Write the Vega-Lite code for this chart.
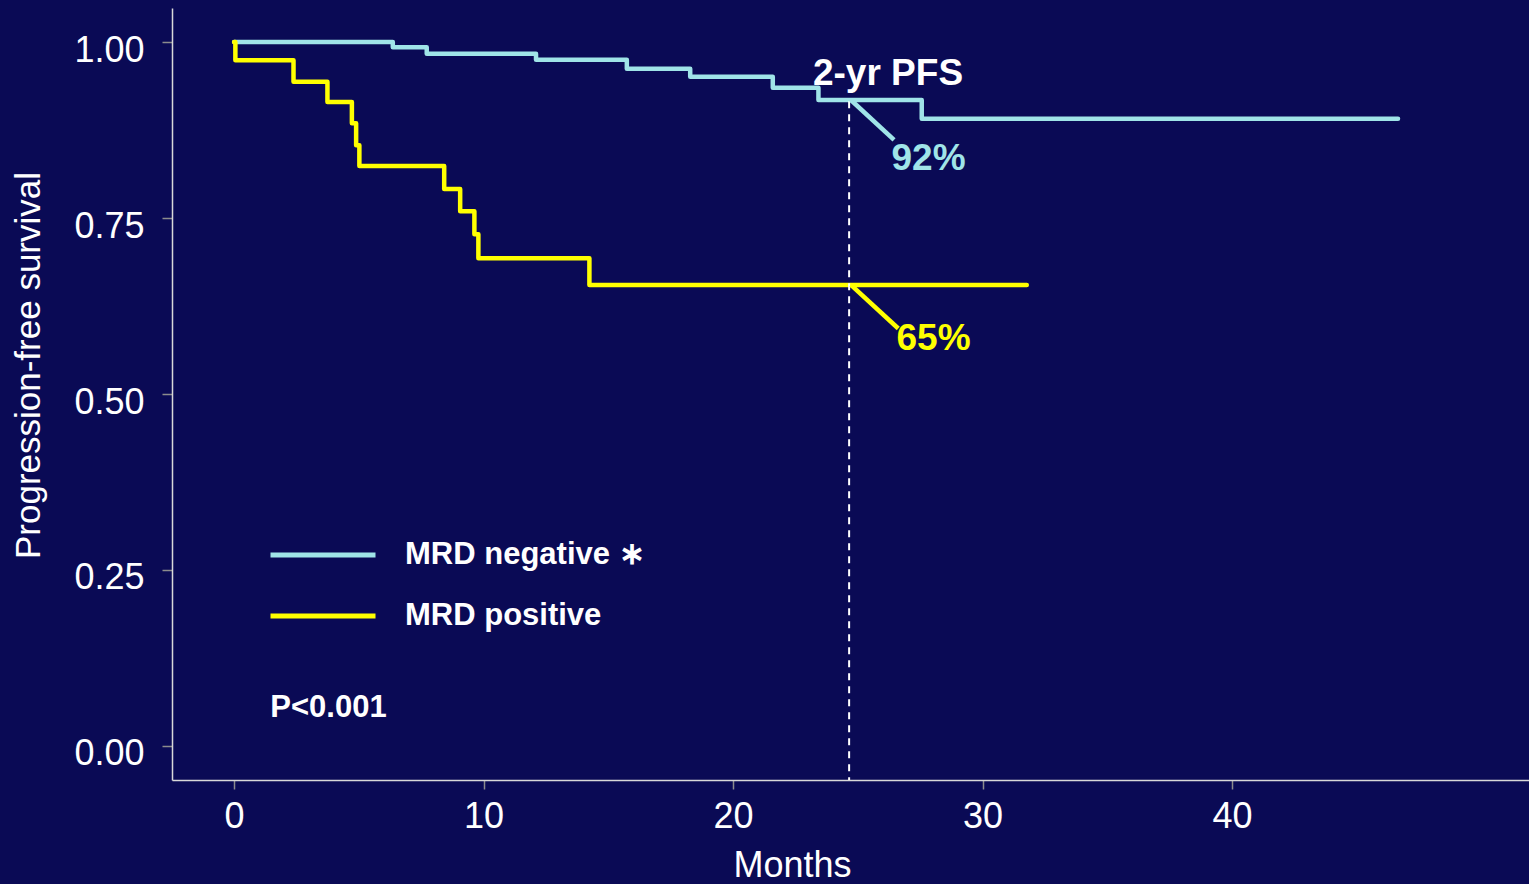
{
  "$schema": "https://vega.github.io/schema/vega-lite/v6.json",
  "width": 1357,
  "height": 772,
  "autosize": "none",
  "padding": {"left": 172, "top": 8, "right": 0, "bottom": 104},
  "background": "#0a0a55",
  "config": {
    "view": {"stroke": null},
    "font": "Liberation Sans",
    "text": {"font": "Liberation Sans"}
  },
  "layer": [
    {
      "data": {
        "values": [
          {"group": "MRD negative ∗", "month": 0, "pfs": 1.0},
          {"group": "MRD negative ∗", "month": 6.36, "pfs": 0.9925},
          {"group": "MRD negative ∗", "month": 7.72, "pfs": 0.9834},
          {"group": "MRD negative ∗", "month": 12.1, "pfs": 0.9749},
          {"group": "MRD negative ∗", "month": 15.74, "pfs": 0.9621},
          {"group": "MRD negative ∗", "month": 18.28, "pfs": 0.9507},
          {"group": "MRD negative ∗", "month": 21.59, "pfs": 0.9351},
          {"group": "MRD negative ∗", "month": 23.42, "pfs": 0.9176},
          {"group": "MRD negative ∗", "month": 27.56, "pfs": 0.8911},
          {"group": "MRD negative ∗", "month": 46.65, "pfs": 0.8911},
          {"group": "MRD positive", "month": 0, "pfs": 1.0},
          {"group": "MRD positive", "month": 0.05, "pfs": 0.974},
          {"group": "MRD positive", "month": 2.38, "pfs": 0.9436},
          {"group": "MRD positive", "month": 3.74, "pfs": 0.9148},
          {"group": "MRD positive", "month": 4.72, "pfs": 0.8845},
          {"group": "MRD positive", "month": 4.89, "pfs": 0.8532},
          {"group": "MRD positive", "month": 5.02, "pfs": 0.8239},
          {"group": "MRD positive", "month": 8.42, "pfs": 0.7912},
          {"group": "MRD positive", "month": 9.06, "pfs": 0.7595},
          {"group": "MRD positive", "month": 9.63, "pfs": 0.7268},
          {"group": "MRD positive", "month": 9.79, "pfs": 0.6927},
          {"group": "MRD positive", "month": 14.24, "pfs": 0.6548},
          {"group": "MRD positive", "month": 31.77, "pfs": 0.6548}
        ]
      },
      "mark": {"type": "line", "interpolate": "step-after", "strokeWidth": 4.5, "strokeCap": "round", "strokeJoin": "round"},
      "encoding": {
        "x": {
          "field": "month", "type": "quantitative",
          "scale": {"domain": [-2.49, 51.9], "nice": false, "zero": false},
          "axis": {
            "values": [0, 10, 20, 30, 40],
            "title": "Months",
            "titleFont": "Liberation Sans", "titleFontSize": 36, "titleFontWeight": "normal", "titleColor": "#ffffff",
            "titleX": 620, "titleY": 96, "titleAlign": "center", "titleBaseline": "alphabetic",
            "labelFont": "Liberation Sans", "labelFontSize": 36, "labelColor": "#ffffff", "labelPadding": 10,
            "tickSize": 9, "tickColor": "#8c8c8c", "tickWidth": 1.5,
            "domainColor": "#d9d9d9", "domainWidth": 1.5, "grid": false, "labelFlush": false
          }
        },
        "y": {
          "field": "pfs", "type": "quantitative",
          "scale": {"domain": [-0.0483, 1.0483], "nice": false, "zero": false},
          "axis": {
            "values": [0, 0.25, 0.5, 0.75, 1], "format": ".2f",
            "title": "Progression-free survival",
            "titleFont": "Liberation Sans", "titleFontSize": 35, "titleFontWeight": "normal", "titleColor": "#ffffff",
            "titleX": -133, "titleY": 357, "titleAlign": "center", "titleBaseline": "alphabetic", "titleAngle": -90,
            "labelFont": "Liberation Sans", "labelFontSize": 36, "labelColor": "#ffffff", "labelPadding": 18, "labelOffset": 8,
            "tickSize": 10, "tickColor": "#8c8c8c", "tickWidth": 1.5,
            "domainColor": "#d9d9d9", "domainWidth": 1.5, "grid": false, "labelFlush": false
          }
        },
        "color": {
          "field": "group", "type": "nominal",
          "scale": {"domain": ["MRD negative ∗", "MRD positive"], "range": ["#a0e4e8", "#ffff00"]},
          "legend": {
            "orient": "none", "legendX": 96, "legendY": 527, "title": null, "padding": 0,
            "symbolType": "stroke", "symbolSize": 11025, "symbolStrokeWidth": 5,
            "labelFont": "Liberation Sans", "labelFontSize": 31, "labelFontWeight": "bold", "labelColor": "#ffffff",
            "labelOffset": 27, "clipHeight": 40, "rowPadding": 21, "labelLimit": 400
          }
        }
      }
    },
    {
      "data": {"values": [{}]},
      "mark": {"type": "rule", "stroke": "#ffffff", "strokeWidth": 2, "strokeDash": [7, 6]},
      "encoding": {"x": {"datum": 24.65}, "y": {"datum": 0.916}, "y2": {"datum": -0.0483}}
    },
    {
      "data": {"values": [{}]},
      "mark": {"type": "rule", "stroke": "#a0e4e8", "strokeWidth": 4.5},
      "encoding": {"x": {"datum": 24.72}, "y": {"datum": 0.9176}, "x2": {"datum": 26.45}, "y2": {"datum": 0.861}}
    },
    {
      "data": {"values": [{}]},
      "mark": {"type": "rule", "stroke": "#ffff00", "strokeWidth": 4.5},
      "encoding": {"x": {"datum": 24.72}, "y": {"datum": 0.655}, "x2": {"datum": 26.62}, "y2": {"datum": 0.593}}
    },
    {
      "data": {"values": [{}]},
      "mark": {"type": "text", "text": "2-yr PFS", "align": "left", "baseline": "alphabetic", "fontSize": 37, "fontWeight": "bold", "color": "#ffffff"},
      "encoding": {"x": {"datum": 23.2}, "y": {"datum": 0.939}}
    },
    {
      "data": {"values": [{}]},
      "mark": {"type": "text", "text": "92%", "align": "left", "baseline": "alphabetic", "fontSize": 37, "fontWeight": "bold", "color": "#a0e4e8"},
      "encoding": {"x": {"datum": 26.35}, "y": {"datum": 0.818}}
    },
    {
      "data": {"values": [{}]},
      "mark": {"type": "text", "text": "65%", "align": "left", "baseline": "alphabetic", "fontSize": 37, "fontWeight": "bold", "color": "#ffff00"},
      "encoding": {"x": {"datum": 26.55}, "y": {"datum": 0.5625}}
    },
    {
      "data": {"values": [{}]},
      "mark": {"type": "text", "text": "P<0.001", "align": "left", "baseline": "alphabetic", "fontSize": 31, "fontWeight": "bold", "color": "#ffffff"},
      "encoding": {"x": {"datum": 1.45}, "y": {"datum": 0.0412}}
    }
  ]
}
